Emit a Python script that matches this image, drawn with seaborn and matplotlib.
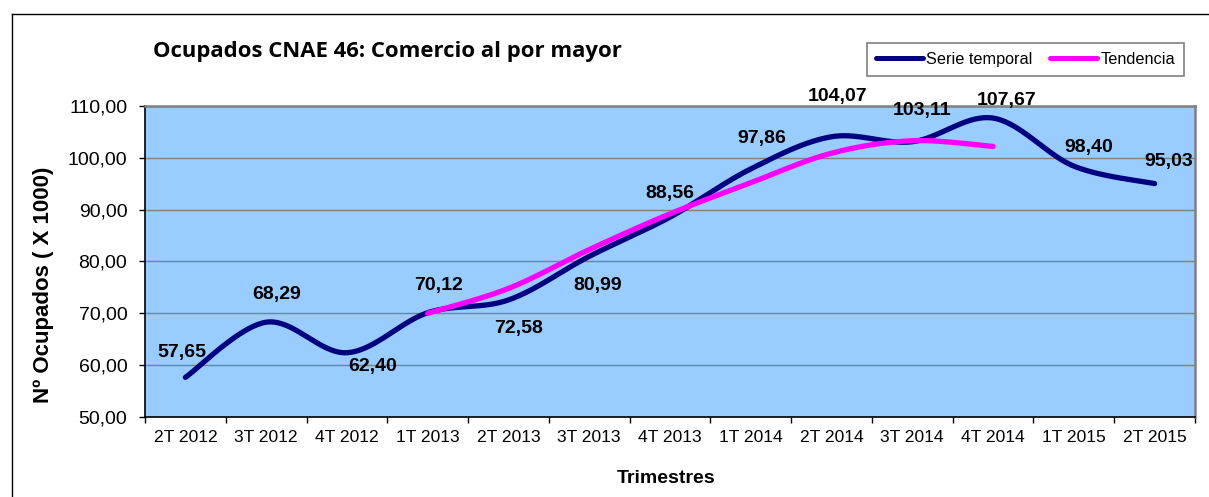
import numpy as np
import pandas as pd
import matplotlib
matplotlib.use("Agg")
import matplotlib.pyplot as plt
from matplotlib.lines import Line2D
import seaborn as sns

# Datos
trimestres = ['2T 2012', '3T 2012', '4T 2012', '1T 2013', '2T 2013', '3T 2013', '4T 2013',
              '1T 2014', '2T 2014', '3T 2014', '4T 2014', '1T 2015', '2T 2015']
ocupados = [57.65, 68.29, 62.40, 70.12, 72.58, 80.99, 88.56,
            97.86, 104.07, 103.11, 107.67, 98.40, 95.03]

# Tendencia: de 1T 2013 a 4T 2014 (valores estimados)
trend_trimestres = trimestres[3:11]
tendencia = [70.0, 74.8, 82.3, 89.2, 95.2, 100.9, 103.3, 102.2]

y_ticks = [50, 60, 70, 80, 90, 100, 110]

# desplazamiento de cada etiqueta respecto a su punto (px, +arriba)
label_offsets = [(-4, 25), (10, 28), (26, -14), (11, 27), (10, -29), (8, -29), (0, 24),
                 (11, 30), (6, 40), (10, 31), (14, 18), (15, 19), (14, 22)]

NAVY = '#000080'
MAGENTA = '#FF00FF'


def smooth(xs, ys, n=40):
    # linea suavizada estilo Excel (bezier cubica por tramos)
    p = np.column_stack([xs, ys]).astype(float)
    ext = np.vstack([p[0], p, p[-1]])
    t = np.linspace(0, 1, n)[:, None]
    parts = []
    for i in range(len(p) - 1):
        p0, p1, p2, p3 = ext[i], ext[i + 1], ext[i + 2], ext[i + 3]
        c1 = p1 + (p2 - p0) / 6
        c2 = p2 - (p3 - p1) / 6
        seg = (1 - t) ** 3 * p1 + 3 * (1 - t) ** 2 * t * c1 + 3 * (1 - t) * t ** 2 * c2 + t ** 3 * p2
        parts.append(seg if i == 0 else seg[1:])
    return np.vstack(parts)


x_serie = np.arange(len(trimestres))
x_trend = np.array([trimestres.index(t) for t in trend_trimestres])

serie = pd.DataFrame(smooth(x_serie, ocupados), columns=['x', 'y'])
trend = pd.DataFrame(smooth(x_trend, tendencia), columns=['x', 'y'])

plt.rcParams['font.family'] = ['Liberation Sans', 'DejaVu Sans']

W, H = 1209, 497
fig = plt.figure(figsize=(W / 100, H / 100), dpi=100)
ax = fig.add_axes([145 / W, 1 - 417 / H, 1050 / W, 311 / H])
ax.set_facecolor('#99CCFF')

sns.lineplot(data=serie, x='x', y='y', sort=False, estimator=None, color=NAVY,
             lw=3.8, solid_capstyle='round', ax=ax, zorder=3)
sns.lineplot(data=trend, x='x', y='y', sort=False, estimator=None, color=MAGENTA,
             lw=3.8, solid_capstyle='round', ax=ax, zorder=4)

# etiquetas de datos
for i, v in enumerate(ocupados):
    dx, dy = label_offsets[i]
    ax.annotate(f'{v:.2f}'.replace('.', ','), xy=(x_serie[i], v),
                xytext=(dx * 0.72, dy * 0.72), textcoords='offset points',
                ha='center', va='center', fontsize=14, fontweight='bold',
                color='black', annotation_clip=False, zorder=5)

# ejes
ax.set_xlim(-0.5, len(trimestres) - 0.5)
ax.set_ylim(50, 110)
ax.set_xticks(x_serie)
ax.set_xticklabels(trimestres, fontsize=12.6)
ax.set_xticks(np.arange(-0.5, len(trimestres), 1), minor=True)
ax.tick_params(axis='x', which='major', length=0, pad=9.4)
ax.tick_params(axis='x', which='minor', length=4, width=1, color='black')
ax.set_yticks(y_ticks)
ax.set_yticklabels([f'{v:.2f}'.replace('.', ',') for v in y_ticks], fontsize=14)
ax.tick_params(axis='y', length=4.3, width=1, pad=8.4, color='black')
ax.set_xlabel('')
ax.set_ylabel('')

ax.yaxis.grid(True, color='#808080', lw=1)
ax.xaxis.grid(False)
ax.set_axisbelow(True)

for s in ['left', 'bottom']:
    ax.spines[s].set_color('black')
    ax.spines[s].set_linewidth(1.2)
for s in ['top', 'right']:
    ax.spines[s].set_color('#808080')
    ax.spines[s].set_linewidth(1.8)

# leyenda
handles = [Line2D([], [], color=NAVY, lw=3.6, solid_capstyle='round'),
           Line2D([], [], color=MAGENTA, lw=3.6, solid_capstyle='round')]
leg = fig.legend(handles, ['Serie temporal', 'Tendencia'], ncol=2,
                 loc='center', bbox_to_anchor=(1025.5 / W, 1 - 59.2 / H),
                 fontsize=11.7, handlelength=2.9, handletextpad=0.2,
                 columnspacing=1.05, frameon=True, fancybox=False,
                 borderpad=0.55, framealpha=1)
leg.get_frame().set_edgecolor('#808080')
leg.get_frame().set_linewidth(1.2)

# titulos
fig.text(153 / W, 1 - 56.7 / H, 'Ocupados CNAE 46: Comercio al por mayor',
         family=['Open Sans', 'DejaVu Sans'], fontweight='bold', fontsize=15.9,
         ha='left', va='baseline')
fig.text(666 / W, 1 - 483.3 / H, 'Trimestres', fontsize=14, fontweight='bold',
         ha='center', va='baseline')
fig.text(43.3 / W, 1 - 285 / H, 'Nº Ocupados ( X 1000)', fontsize=16,
         fontweight='bold', rotation=90, ha='center', va='center')

# marco exterior (solo lados superior e izquierdo visibles)
fig.add_artist(Line2D([12 / W, 12 / W], [0, 1 - 14 / H], color='black', lw=1))
fig.add_artist(Line2D([12 / W, 1], [1 - 14 / H, 1 - 14 / H], color='black', lw=1))

fig.savefig('out.png', dpi=100)
